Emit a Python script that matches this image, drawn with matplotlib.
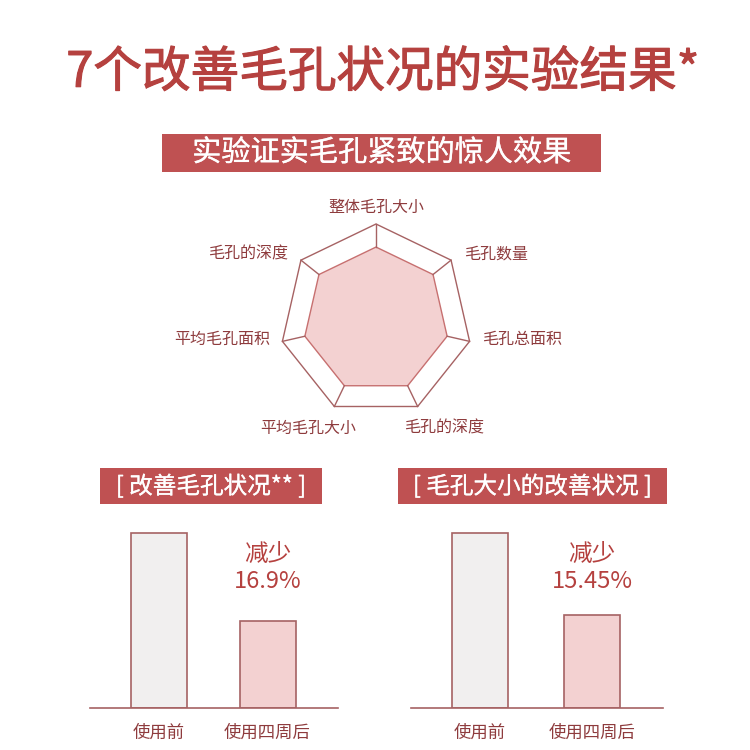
import numpy as np
import matplotlib
matplotlib.use("Agg")
import matplotlib.pyplot as plt
import matplotlib.patches as mpatches
import matplotlib.patheffects as pe

plt.rcParams['font.family'] = ['Noto Sans CJK SC', 'DejaVu Sans']

# ── data ─────────────────────────────────────────────────────────────
TITLE = "7个改善毛孔状况的实验结果*"
BANNER = "实验证实毛孔紧致的惊人效果"
RADAR_LABELS = ["整体毛孔大小", "毛孔数量", "毛孔总面积", "毛孔的深度",
                "平均毛孔大小", "平均毛孔面积", "毛孔的深度"]
RADAR_VALUES = [0.76, 0.76, 0.76, 0.76, 0.76, 0.76, 0.76]
RADAR_MAX = 1.0

BAR_CATS = ["使用前", "使用四周后"]
LEFT_TITLE = "[ 改善毛孔状况** ]"
LEFT_VALUES = [100, 50]
LEFT_NOTE = "减少\n16.9%"
RIGHT_TITLE = "[ 毛孔大小的改善状况 ]"
RIGHT_VALUES = [100, 53]
RIGHT_NOTE = "减少\n15.45%"

RED = "#b5413f"
BANNER_RED = "#bf5152"
DARK = "#8e3b3d"
EDGE = "#a66263"
PINK = "#f3d1d1"
GREY = "#f1efef"

W = H = 750
fig = plt.figure(figsize=(7.5, 7.5), dpi=100)
fig.patch.set_facecolor("white")


def fx(px):
    return px / W


def fy(py):
    return 1 - py / H


def banner(x0, y0, x1, y1, text, size):
    rect = mpatches.Rectangle((fx(x0), fy(y1)), fx(x1 - x0), (y1 - y0) / H,
                              transform=fig.transFigure, facecolor=BANNER_RED,
                              edgecolor="none")
    fig.add_artist(rect)
    fig.text(fx((x0 + x1) / 2), fy((y0 + y1) / 2), text, color="white",
             fontsize=size, ha="center", va="center",
             path_effects=[pe.withStroke(linewidth=0.2, foreground="white")])


# title + banner (thin stroke gives a medium weight)
fig.text(fx(383), fy(73), TITLE, color=RED, fontsize=35,
         ha="center", va="center",
         path_effects=[pe.withStroke(linewidth=0.8, foreground=RED)])
banner(162, 134, 601, 172, BANNER, 21)

# ── radar ────────────────────────────────────────────────────────────
cx, cy, R = 376, 320, 96
half = 140
rax = fig.add_axes([fx(cx - half), fy(cy + half), 2 * half / W, 2 * half / H])
rax.set_xlim(-half / R, half / R)
rax.set_ylim(-half / R, half / R)
rax.axis("off")

n = len(RADAR_LABELS)
ang = np.pi / 2 - 2 * np.pi * np.arange(n) / n
ox, oy = RADAR_MAX * np.cos(ang), RADAR_MAX * np.sin(ang)
vals = np.array(RADAR_VALUES)
ix, iy = vals * np.cos(ang), vals * np.sin(ang)

rax.add_patch(mpatches.Polygon(np.c_[ox, oy], closed=True, facecolor="white",
                               edgecolor=EDGE, linewidth=1))
rax.add_patch(mpatches.Polygon(np.c_[ix, iy], closed=True, facecolor=PINK,
                               edgecolor="#c77070", linewidth=1))
for k in range(n):
    rax.plot([ix[k], ox[k]], [iy[k], oy[k]], color=EDGE, linewidth=1)

for k, lab in enumerate(RADAR_LABELS):
    c, s = np.cos(ang[k]), np.sin(ang[k])
    if abs(c) < 0.1:
        x, y, ha, va = ox[k], oy[k] + 0.08, "center", "bottom"
    elif s < -0.8:
        x, y, ha, va = ox[k] + 0.27 * np.sign(c), oy[k] - 0.14, "center", "top"
    else:
        dy = 0.06 if s > 0.5 else 0.02
        x, y, ha, va = ox[k] + 0.13 * np.sign(c), oy[k] + dy, \
            ("left" if c > 0 else "right"), "center"
    rax.text(x, y, lab, color=DARK, fontsize=11.5, ha=ha, va=va, clip_on=False)


# ── bar panels ───────────────────────────────────────────────────────
def bar_panel(x0, x1, c0, c1, values, title, tx0, tx1, note):
    top, base = 515, 708
    ax = fig.add_axes([fx(x0), fy(base), fx(x1 - x0), (base - top) / H])
    unit = c1 - c0
    ax.set_xlim(-(c0 - x0) / unit, 1 + (x1 - c1) / unit)
    ax.set_ylim(0, 100 * (base - top) / 175)
    ax.bar([0, 1], values, width=56 / unit, color=[GREY, PINK],
           edgecolor=EDGE, linewidth=1.2)
    for sp in ["top", "left", "right"]:
        ax.spines[sp].set_visible(False)
    ax.spines["bottom"].set_color(EDGE)
    ax.spines["bottom"].set_linewidth(1.2)
    ax.set_yticks([])
    ax.set_xticks([0, 1])
    ax.set_xticklabels(BAR_CATS, color=DARK, fontsize=12.5)
    ax.tick_params(axis="x", length=0, pad=11)
    ax.text(1, 80, note, color=RED, fontsize=17, ha="center",
            va="center", linespacing=1.2)
    banner(tx0, 468, tx1, 504, title, 17)


bar_panel(90, 338, 159, 267.5, LEFT_VALUES, LEFT_TITLE, 100, 322, LEFT_NOTE)
bar_panel(411, 663, 479.5, 592, RIGHT_VALUES, RIGHT_TITLE, 398, 667, RIGHT_NOTE)

fig.savefig("out.png", dpi=100)
